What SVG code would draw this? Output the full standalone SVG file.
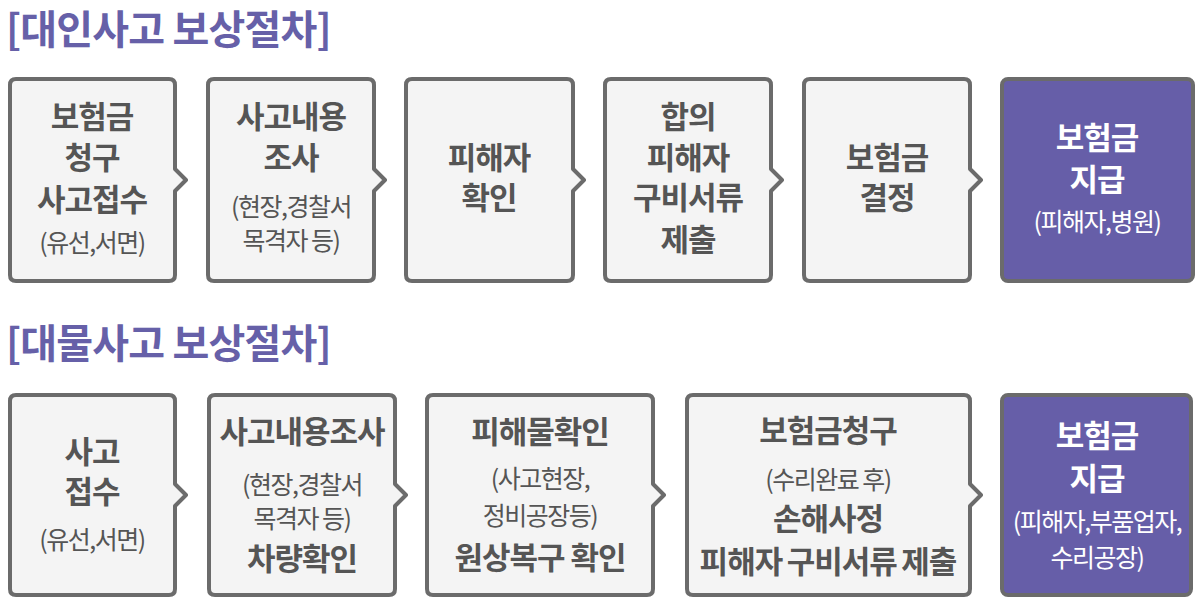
<svg xmlns="http://www.w3.org/2000/svg" width="1202" height="604" viewBox="0 0 1202 604">
<style>
.title{font-family:"Noto Sans CJK KR","Noto Sans",sans-serif;font-weight:700;font-size:40px;fill:#6660a8;letter-spacing:-0.8px}
.box{fill:#f4f4f4;stroke:#6b6b6b;stroke-width:4;stroke-linejoin:round}
.pbox{fill:#665ea8;stroke:#6b6b6b;stroke-width:4}
.b{font-family:"Noto Sans CJK KR","Noto Sans",sans-serif;font-weight:700;font-size:31px;fill:#555;text-anchor:middle;letter-spacing:-1px}
.s{font-family:"Noto Sans CJK KR","Noto Sans",sans-serif;font-weight:400;font-size:25px;fill:#555;text-anchor:middle;letter-spacing:-1.5px}
.w{fill:#fff}
</style>
<rect width="1202" height="604" fill="#fff"/>
<text class="title" x="6" y="44">[대인사고 보상절차]</text>
<text class="title" x="6" y="358">[대물사고 보상절차]</text>

<g id="n1">
<path class="box" d="M16,79 H169 Q175,79 175,85 V169 L186,180 L175,191 V275 Q175,281 169,281 H16 Q10,281 10,275 V85 Q10,79 16,79 Z"/>
<text class="b" x="92" y="128">보험금</text>
<text class="b" x="92" y="169">청구</text>
<text class="b" x="92" y="211">사고접수</text>
<text class="s" x="92" y="252">(유선,서면)</text>
</g>
<g id="n2">
<path class="box" d="M214,79 H368 Q374,79 374,85 V169 L385,180 L374,191 V275 Q374,281 368,281 H214 Q208,281 208,275 V85 Q208,79 214,79 Z"/>
<text class="b" x="291" y="128">사고내용</text>
<text class="b" x="291" y="169">조사</text>
<text class="s" x="291" y="216">(현장,경찰서</text>
<text class="s" x="291" y="250">목격자 등)</text>
</g>
<g id="n3">
<path class="box" d="M412,79 H567 Q573,79 573,85 V169 L584,180 L573,191 V275 Q573,281 567,281 H412 Q406,281 406,275 V85 Q406,79 412,79 Z"/>
<text class="b" x="489" y="169">피해자</text>
<text class="b" x="489" y="209">확인</text>
</g>
<g id="n4">
<path class="box" d="M611,79 H765 Q771,79 771,85 V169 L782,180 L771,191 V275 Q771,281 765,281 H611 Q605,281 605,275 V85 Q605,79 611,79 Z"/>
<text class="b" x="688" y="128">합의</text>
<text class="b" x="688" y="169">피해자</text>
<text class="b" x="688" y="209">구비서류</text>
<text class="b" x="688" y="251">제출</text>
</g>
<g id="n5">
<path class="box" d="M810,79 H964 Q970,79 970,85 V169 L981,180 L970,191 V275 Q970,281 964,281 H810 Q804,281 804,275 V85 Q804,79 810,79 Z"/>
<text class="b" x="887" y="169">보험금</text>
<text class="b" x="887" y="209">결정</text>
</g>
<g id="n6">
<rect class="pbox" x="1002" y="79" width="191" height="202" rx="6"/>
<text class="b w" x="1097" y="149">보험금</text>
<text class="b w" x="1097" y="191">지급</text>
<text class="s w" x="1097" y="231">(피해자,병원)</text>
</g>

<g id="m1">
<path class="box" d="M16,395 H169 Q175,395 175,401 V484 L186,495 L175,506 V589 Q175,595 169,595 H16 Q10,595 10,589 V401 Q10,395 16,395 Z"/>
<text class="b" x="92" y="463">사고</text>
<text class="b" x="92" y="503">접수</text>
<text class="s" x="92" y="549">(유선,서면)</text>
</g>
<g id="m2">
<path class="box" d="M215,395 H389 Q395,395 395,401 V484 L406,495 L395,506 V589 Q395,595 389,595 H215 Q209,595 209,589 V401 Q209,395 215,395 Z"/>
<text class="b" x="302" y="443">사고내용조사</text>
<text class="s" x="302" y="494">(현장,경찰서</text>
<text class="s" x="302" y="528">목격자 등)</text>
<text class="b" x="302" y="570">차량확인</text>
</g>
<g id="m3">
<path class="box" d="M433,395 H647 Q653,395 653,401 V484 L664,495 L653,506 V589 Q653,595 647,595 H433 Q427,595 427,589 V401 Q427,395 433,395 Z"/>
<text class="b" x="540" y="443">피해물확인</text>
<text class="s" x="540" y="488">(사고현장,</text>
<text class="s" x="540" y="525">정비공장등)</text>
<text class="b" x="540" y="569">원상복구 확인</text>
</g>
<g id="m4">
<path class="box" d="M693,395 H964 Q970,395 970,401 V484 L981,495 L970,506 V589 Q970,595 964,595 H693 Q687,595 687,589 V401 Q687,395 693,395 Z"/>
<text class="b" x="828" y="442">보험금청구</text>
<text class="s" x="828" y="489">(수리완료 후)</text>
<text class="b" x="828" y="530">손해사정</text>
<text class="b" x="828" y="573" word-spacing="-1.5">피해자 구비서류 제출</text>
</g>
<g id="m5">
<rect class="pbox" x="1002" y="395" width="189" height="200" rx="6"/>
<text class="b w" x="1097" y="447">보험금</text>
<text class="b w" x="1097" y="490">지급</text>
<text class="s w" x="1097" y="531">(피해자,부품업자,</text>
<text class="s w" x="1097" y="567">수리공장)</text>
</g>
<g id="connectors"/>
</svg>
